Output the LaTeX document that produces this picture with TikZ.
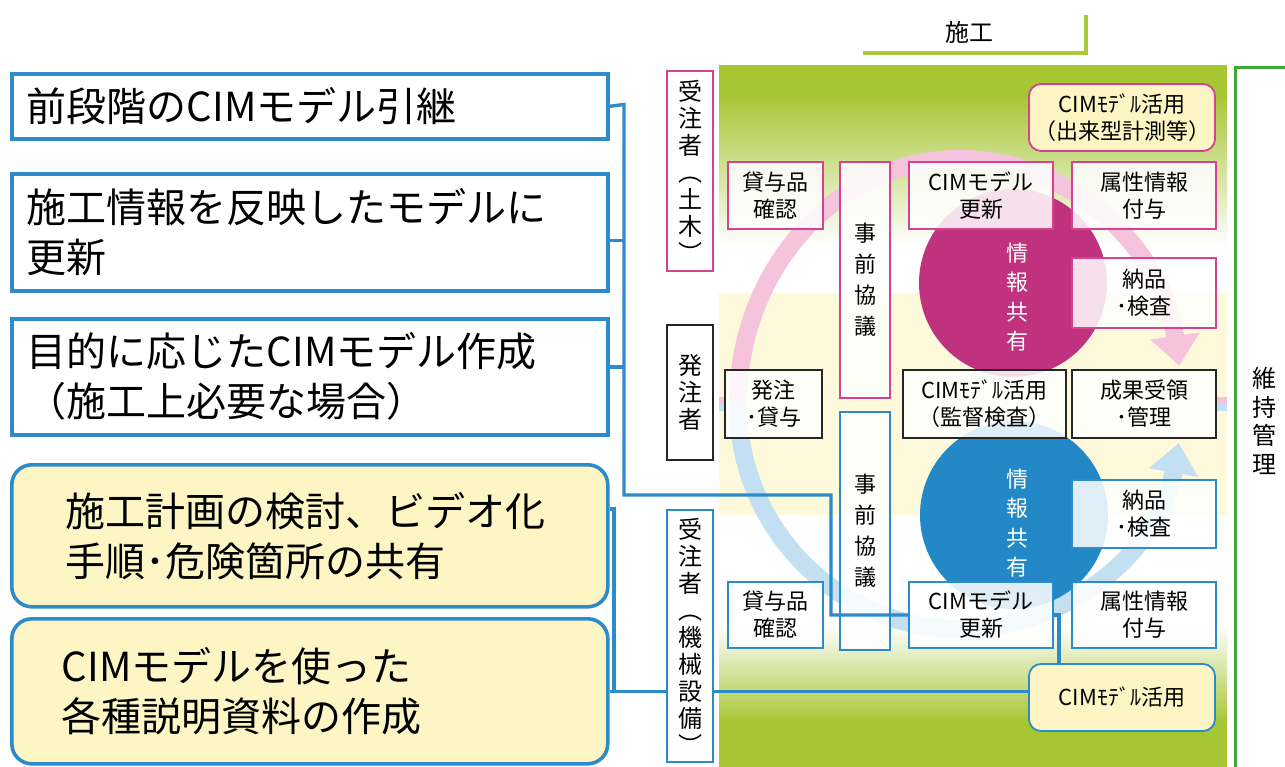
\documentclass[tikz,border=0pt]{standalone}
\usepackage{fontspec}
\setmainfont{Noto Sans CJK JP}
\usetikzlibrary{arrows.meta,calc}
\definecolor{lblue}{RGB}{46,139,201}
\definecolor{pinkb}{RGB}{214,66,143}
\definecolor{magc}{RGB}{192,50,126}
\definecolor{bluec}{RGB}{35,137,198}
\definecolor{pinkarc}{RGB}{245,196,220}
\definecolor{bluearc}{RGB}{194,224,242}
\definecolor{yfill}{RGB}{253,246,196}
\definecolor{yband}{RGB}{253,249,218}
\definecolor{pgreen}{RGB}{166,198,52}
\definecolor{lgreen}{RGB}{170,200,60}
\definecolor{mgreen}{RGB}{60,170,50}
\newcommand\fs[2]{\fontsize{#1}{#2}\selectfont}
\pgfdeclarelayer{bg}
\pgfdeclarelayer{mid}
\pgfsetlayers{bg,mid,main}
\tikzset{
  lbox/.style={draw=lblue, line width=3.6pt, fill=white, anchor=north west, align=left,
    font=\fs{40}{50}, inner ysep=0pt, text width=566pt, inner xsep=15pt},
  lrbox/.style={lbox, fill=yfill, rounded corners=20pt},
  rolebox/.style={draw, line width=2pt, fill=white, minimum width=46pt, inner sep=0pt,
    align=center, font=\fs{24}{27}},
  pbox/.style={draw=pinkb, line width=1.8pt, fill=white, fill opacity=0.85, text opacity=1,
    inner sep=0pt, align=center, font=\fs{22}{27}},
  bbox/.style={pbox, draw=lblue},
  kbox/.style={pbox, draw=black!85},
  ybox/.style={pbox, fill=yfill, fill opacity=1, rounded corners=12pt},
  circtext/.style={align=center, font=\fs{22}{29.5}, text=white},
  conn/.style={draw=lblue, line width=3.4pt},
}
\begin{document}
\begin{tikzpicture}[x=1pt,y=-1pt]
\useasboundingbox (0,0) rectangle (1285,767);

% ---------- background panel ----------
\begin{pgfonlayer}{bg}
  \fill[white] (0,0) rectangle (1285,767);
  \fill[pgreen] (719,65) rectangle (1227,96);
  \shade[top color=pgreen, bottom color=white] (719,95) rectangle (1227,246);
  \fill[white] (719,245) rectangle (1227,626);
  \fill[yband] (719,293) rectangle (1227,515);
  \shade[top color=white, bottom color=pgreen] (719,625) rectangle (1227,722);
  \fill[pgreen] (719,721) rectangle (1227,767);
  \draw[lgreen, line width=4pt] (863,53) -- (1086,53) -- (1086,15);
  \draw[mgreen, line width=3pt] (1285,68) -- (1235,68) -- (1235,767);
\end{pgfonlayer}

% ---------- labels ----------
\node[font=\fs{24}{28}] (sekou) at (969,32) {施工};
\node[align=center, font=\fs{24}{28.5}] (iji) at (1264,421) {維\\持\\管\\理};

% ---------- left boxes ----------
\node[lbox, minimum height=65pt] (b1) at (10,72) {前段階のCIMモデル引継};
\node[lbox, minimum height=117pt] (b2) at (10,172) {施工情報を反映したモデルに\\更新};
\node[lbox, minimum height=116pt] (b3) at (10,317) {目的に応じたCIMモデル作成\\（施工上必要な場合）};
\node[lrbox, minimum height=142pt, text width=488pt, inner xsep=54pt] (b4) at (10,463) {施工計画の検討、ビデオ化\\手順･危険箇所の共有};
\node[lrbox, minimum height=145pt, text width=496pt, inner xsep=50pt] (b5) at (10,617) {CIMモデルを使った\\各種説明資料の作成};

% ---------- role boxes ----------
\node[rolebox, draw=pinkb, minimum height=200pt] (r1) at (690,171) {受\\注\\者\\︵\\土\\木\\︶};
\node[rolebox, draw=black!85, minimum height=135pt] (r2) at (690,392.5) {発\\注\\者};
\node[rolebox, draw=lblue, minimum height=252pt] (r3) at (690,636) {受\\注\\者\\︵\\機\\械\\設\\備\\︶};

% ---------- panel boxes ----------
\node[ybox, draw=pinkb, minimum width=186pt, minimum height=67pt] (cmt) at (1122,117.5) {CIMﾓﾃﾞﾙ活用\\（出来型計測等）};
\node[pbox, minimum width=95pt, minimum height=67pt] (lend1) at (775.5,195.5) {貸与品\\確認};
\node[pbox, minimum width=50pt, minimum height=236pt, font=\fs{22}{31}] (jz1) at (865,280) {事\\前\\協\\議};
\node[pbox, minimum width=144pt, minimum height=67pt] (cu1) at (981,195.5) {CIMモデル\\更新};
\node[pbox, minimum width=144pt, minimum height=67pt] (zk1) at (1144,195.5) {属性情報\\付与};
\node[pbox, minimum width=144pt, minimum height=70pt] (nk1) at (1144,293) {納品\\･検査};

\node[kbox, minimum width=97pt, minimum height=68pt] (hc) at (773.5,404) {発注\\･貸与};
\node[kbox, minimum width=163pt, minimum height=68pt] (cmk) at (984.5,404) {CIMﾓﾃﾞﾙ活用\\（監督検査）};
\node[kbox, minimum width=144pt, minimum height=68pt] (sr) at (1144,404) {成果受領\\･管理};

\node[bbox, minimum width=144pt, minimum height=68pt] (nk2) at (1144,514) {納品\\･検査};
\node[bbox, minimum width=50pt, minimum height=238pt, font=\fs{22}{31}] (jz2) at (865,531) {事\\前\\協\\議};
\node[bbox, minimum width=95pt, minimum height=66pt] (lend2) at (775.5,615) {貸与品\\確認};
\node[bbox, minimum width=144pt, minimum height=66pt] (cu2) at (981,615) {CIMモデル\\更新};
\node[bbox, minimum width=144pt, minimum height=66pt] (zk2) at (1144,615) {属性情報\\付与};
\node[ybox, draw=lblue, minimum width=186pt, minimum height=67pt] (cmb) at (1122,697.5) {CIMﾓﾃﾞﾙ活用};

% ---------- arcs, circles, lower connector ----------
\begin{pgfonlayer}{mid}
  \draw[pinkarc, line width=7pt] (719,400.5) -- (hc.west |- 0,400.5);
  \draw[bluearc, line width=7pt] (719,407.5) -- (hc.west |- 0,407.5);
  \draw[pinkarc, line width=7pt] (sr.east |- 0,400.5) -- (1227,400.5);
  \draw[bluearc, line width=7pt] (sr.east |- 0,407.5) -- (1227,407.5);
  \draw[pinkarc, line width=18pt, -{Triangle[length=30pt,width=48pt]}]
    (738,404) arc[start angle=180, end angle=9, x radius=222pt, y radius=245pt];
  \draw[bluearc, line width=18pt, -{Triangle[length=30pt,width=48pt]}]
    (738,404) arc[start angle=180, end angle=350, x radius=222pt, y radius=225pt];
  \fill[magc] (1013,283) circle[radius=94pt];
  \fill[bluec] (1014,515) circle[radius=94pt];
  \draw[conn] (b5.east) -- (b5.east -| cmb.west);
\end{pgfonlayer}

\node[circtext] (ct1) at (1017,297) {情\\報\\共\\有};
\node[circtext] (ct2) at (1017,523) {情\\報\\共\\有};

% ---------- connectors ----------
\coordinate (tA) at (624,104.5);
\coordinate (tB) at (624,495);
\coordinate (tC) at (831,495);
\coordinate (tD) at (614,689.5);
\draw[conn] (b1.east) -- (tA) -- (tB) -- (tC) |- (cu2.west);
\draw[conn] ([yshift=-8pt]b2.east) -- ++(14,0);
\draw[conn] ([yshift=10pt]b3.east) -- ++(14,0);
\draw[conn] ([yshift=27pt]b4.east) -| (tD);
\draw[conn] (cu2.east) -| ($(cmb.north west)+(31,0)$);
\end{tikzpicture}
\end{document}
